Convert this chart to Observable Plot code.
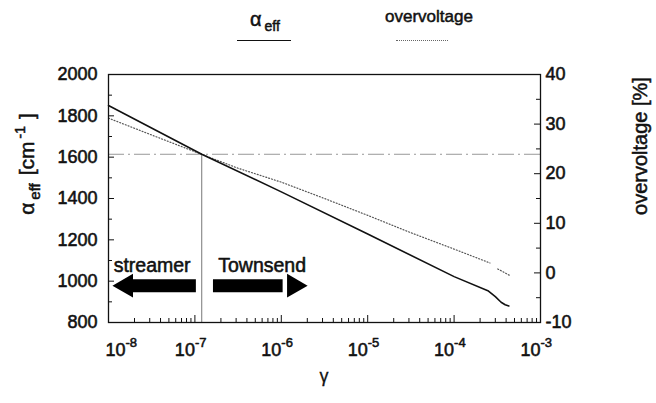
<!DOCTYPE html>
<html>
<head>
<meta charset="utf-8">
<script src="https://cdn.jsdelivr.net/npm/d3@7"></script>
<script src="https://cdn.jsdelivr.net/npm/@observablehq/plot@0.6"></script>
<style>
  html, body { margin: 0; padding: 0; background: #fff; }
  #wrap { position: relative; width: 656px; height: 403px; font-family: "Liberation Sans", Arial, sans-serif; }
  #legend { position: relative; height: 55px; width: 656px; }
  .lg { position: absolute; color: #111; -webkit-text-stroke: 0.5px #111; }
  .lg sub { font-size: 14px; vertical-align: -5px; margin-left: 3px; }
  .sw { position: absolute; height: 0; }
</style>
</head>
<body>
<div id="wrap">
  <div id="legend">
    <div class="lg" style="left:250px; top:8px; font-size:20px;">α<sub>eff</sub></div>
    <div class="sw" style="left:237px; top:40px; width:54px; border-top:1.5px solid #111;"></div>
    <div class="lg" style="left:385px; top:7px; font-size:17px;">overvoltage</div>
    <div class="sw" style="left:396px; top:40px; width:52px; border-top:1px dotted #666;"></div>
  </div>
  <div id="chart"></div>
</div>
<script>
// ---- data ----
const gammaAlpha = [1e-8, 1.2e-7, 1e-6, 1e-5, 1e-4, 2.5e-4, 3.0e-4, 3.5e-4, 3.9e-4, 4.3e-4];
const alphaEff   = [1850, 1614, 1432, 1228, 1022, 952, 925, 898, 886, 880];

const gammaOv = [1e-8, 3.16e-8, 1.2e-7, 3.16e-7, 1e-6, 3.16e-6, 1e-5, 3.16e-5, 1e-4, 2.6e-4, 2.8e-4, 3.2e-4, 4.5e-4];
const overvoltage = [31.2, 27.8, 23.9, 21.1, 18.3, 15.0, 11.6, 8.1, 4.8, 2.0, null, 0.8, -0.6];

const thresholdGamma = 1.2e-7;
const thresholdAlpha = 1614;

const alphaTicks = [800, 1000, 1200, 1400, 1600, 1800, 2000];
const alphaMinor = [900, 1100, 1300, 1500, 1700, 1900];
const ovTicks = [-10, 0, 10, 20, 30, 40];
const ovMinor = [-5, 5, 15, 25, 35];
const gammaTicks = [1e-8, 1e-7, 1e-6, 1e-5, 1e-4, 1e-3];
const gammaExp = ["-8", "-7", "-6", "-5", "-4", "-3"];

const regimeLabels = ["streamer", "Townsend"];
const regimeLabelGamma = [3.2e-8, 6.0e-7];
const arrowShaftFrom = [1.04e-7, 1.64e-7];
const arrowShaftTo = [1.8e-8, 1.05e-6];
const arrowHeadGamma = [1.6e-8, 1.4e-6];
const arrowHeadDir = [-90, 90];
const arrowAlpha = 978;
const regimeLabelAlpha = 1077;

// ---- layout ----
const W = 656, H = 348;
const mL = 108, mR = 116, mT = 19, mB = 81;
const pw = W - mL - mR, ph = H - mT - mB;

// overvoltage mapped onto the alpha scale: -10 -> 800, 40 -> 2000
const ovToAlpha = v => 800 + (v + 10) * 24;

const aData = gammaAlpha.map((g, i) => ({g, a: alphaEff[i]}));
const oData = gammaOv.map((g, i) => ({g, a: overvoltage[i] == null ? NaN : ovToAlpha(overvoltage[i])}));
const gMinor = [];
for (let e = -8; e < -3; e++) for (let m = 2; m <= 9; m++) gMinor.push(+(m + "e" + e));
const arrows = arrowShaftFrom.map((f, i) => ({f, t: arrowShaftTo[i], h: arrowHeadGamma[i], r: arrowHeadDir[i]}));
const regime = regimeLabels.map((t, i) => ({t, g: regimeLabelGamma[i]}));

const font = "Liberation Sans, Arial, sans-serif";
const txt = {fill: "#111", stroke: "#111", strokeWidth: 0.55, paintOrder: "normal"};

const plot = Plot.plot({
  width: W, height: H,
  marginLeft: mL, marginRight: mR, marginTop: mT, marginBottom: mB,
  style: {fontFamily: font, background: "white", overflow: "visible"},
  x: {type: "log", domain: [1e-8, 1e-3], axis: null},
  y: {domain: [800, 2000], axis: null},
  marks: [
    // threshold lines
    Plot.ruleY([thresholdAlpha], {stroke: "#999", strokeWidth: 1, strokeDasharray: "16,4,2,4"}),
    Plot.ruleX([thresholdGamma], {y1: 800, y2: thresholdAlpha, stroke: "#777", strokeWidth: 1}),
    // series
    Plot.line(oData, {x: "g", y: "a", stroke: "#555", strokeWidth: 1.2, strokeDasharray: "1,2"}),
    Plot.line(aData, {x: "g", y: "a", stroke: "#111", strokeWidth: 1.6}),
    // arrows
    Plot.ruleY(arrows, {x1: "f", x2: "t", y: () => arrowAlpha, stroke: "#000", strokeWidth: 13}),
    Plot.dot(arrows, {x: "h", y: () => arrowAlpha, symbol: "triangle", r: 8.8, rotate: "r", fill: "#000", stroke: null}),
    Plot.text(regime, {x: "g", y: () => regimeLabelAlpha, text: "t", fontSize: 19.5, ...txt}),
    // frame
    Plot.frame({stroke: "#111", strokeWidth: 1.3}),
    // left ticks (inward)
    Plot.tickY(alphaTicks, {y: d => d, insetRight: pw - 6, stroke: "#111"}),
    Plot.tickY(alphaMinor, {y: d => d, insetRight: pw - 4, stroke: "#111"}),
    // right ticks (inward)
    Plot.tickY(ovTicks, {y: d => ovToAlpha(d), insetLeft: pw - 6, stroke: "#111"}),
    Plot.tickY(ovMinor, {y: d => ovToAlpha(d), insetLeft: pw - 4, stroke: "#111"}),
    // bottom ticks (inward)
    Plot.tickX(gammaTicks, {x: d => d, insetTop: ph - 7, stroke: "#111"}),
    Plot.tickX(gMinor, {x: d => d, insetTop: ph - 4, stroke: "#111"}),
    // left tick labels
    Plot.text(alphaTicks, {y: d => d, frameAnchor: "left", textAnchor: "end", dx: -11, text: d => String(d), fontSize: 18, ...txt}),
    // right tick labels
    Plot.text(ovTicks, {y: d => ovToAlpha(d), frameAnchor: "right", textAnchor: "start", dx: 5, text: d => String(d), fontSize: 18, ...txt}),
    // x tick labels: "10" + exponent
    Plot.text(gammaTicks.slice(1), {x: d => d, frameAnchor: "bottom", textAnchor: "end", dy: 33, text: () => "10", fontSize: 18, ...txt}),
    Plot.text(gammaExp.slice(1), {x: (d, i) => gammaTicks[i + 1], frameAnchor: "bottom", textAnchor: "start", dy: 24, text: d => d, fontSize: 13, ...txt}),
    Plot.text(gammaTicks.slice(0, 1), {x: d => d, frameAnchor: "bottom", textAnchor: "start", dx: -3, dy: 33, text: () => "10", fontSize: 18, ...txt}),
    Plot.text(gammaExp.slice(0, 1), {x: () => gammaTicks[0], frameAnchor: "bottom", textAnchor: "start", dx: 17, dy: 24, text: d => d, fontSize: 13, ...txt})
  ]
});

document.getElementById("chart").appendChild(plot);

// axis titles with sub/superscripts
const svg = d3.select(plot);
const lt = svg.append("text")
  .attr("transform", `translate(34, ${mT + 90}) rotate(-90)`)
  .attr("text-anchor", "middle")
  .attr("font-family", font).attr("font-size", 21).attr("fill", "#111")
  .attr("stroke", "#111").attr("stroke-width", 0.5);
lt.append("tspan").text("α");
lt.append("tspan").attr("font-size", 15).attr("dx", 3).attr("dy", 6).text("eff");
lt.append("tspan").attr("dx", 8).attr("dy", -6).text("[cm");
lt.append("tspan").attr("font-size", 14).attr("dx", 3).attr("dy", -9).text("-1");
lt.append("tspan").attr("dx", 7).attr("dy", 9).text("]");

svg.append("text")
  .attr("transform", `translate(${W - 9}, ${mT + 72}) rotate(-90)`)
  .attr("text-anchor", "middle")
  .attr("font-family", font).attr("font-size", 20).attr("fill", "#111")
  .attr("stroke", "#111").attr("stroke-width", 0.5)
  .text("overvoltage [%]");

svg.append("text")
  .attr("x", mL + pw / 2).attr("y", H - 21)
  .attr("text-anchor", "middle")
  .attr("font-family", font).attr("font-size", 18).attr("fill", "#111")
  .attr("stroke", "#111").attr("stroke-width", 0.3)
  .text("γ");
</script>
</body>
</html>
